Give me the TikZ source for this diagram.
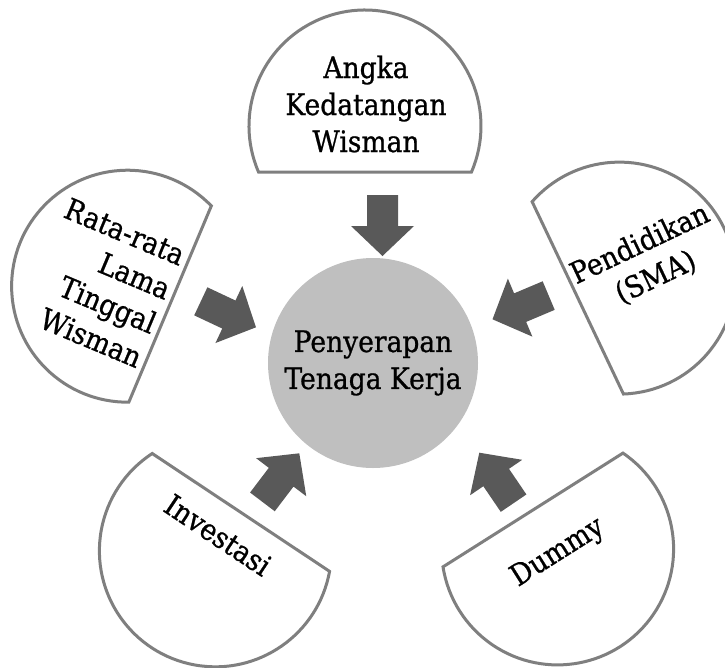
\documentclass[tikz,border=0pt]{standalone}
\usepackage{fontspec}
\setmainfont{DejaVu Serif}[FakeStretch=0.9, FakeBold=0.8]
\definecolor{petalgray}{HTML}{7F7F7F}
\definecolor{arrowgray}{HTML}{595959}
\definecolor{hubgray}{HTML}{BFBFBF}
\tikzset{
  petalline/.style={draw=petalgray, line width=3pt, fill=white},
  petaltext/.style={font=\fontsize{29.5}{37}\selectfont, inner sep=0pt, text=black},
  hub/.style={circle, fill=hubgray, minimum size=210pt, inner sep=0pt,
    align=center, font=\fontsize{29.5}{37}\selectfont},
  % a circle cut by a chord 46pt from its centre; the chord faces -x
  petal/.pic={\draw[petalline] (113.4:116pt)
      arc[start angle=113.4, end angle=-113.4, radius=116pt] -- cycle;},
  % block arrow with its tip at the origin, pointing along +x
  inarrow/.pic={\fill[arrowgray] (0pt,0pt) -- (-30pt,31.5pt) -- (-30pt,15.5pt)
      -- (-61pt,15.5pt) -- (-61pt,-15.5pt) -- (-30pt,-15.5pt)
      -- (-30pt,-31.5pt) -- cycle;}
}
\begin{document}
\begin{tikzpicture}[x=1pt, y=-1pt]
\clip (0,0) rectangle (725,667);
\useasboundingbox (0,0) rectangle (725,667);

% outer petals
\pic (pTop)   [rotate=90]    at (365,126)     {petal};
\pic (pRata)  [rotate=157.2] at (127.6,286.2) {petal};
\pic (pPend)  [rotate=25.4]  at (619.4,278.1) {petal};
\pic (pInv)   [rotate=236.4] at (215.4,550.8) {petal};
\pic (pDummy) [rotate=302.3] at (557.6,548.9) {petal};

% arrows pointing to the hub
\pic (aTop)   [rotate=-90]   at (382.5,256)   {inarrow};
\pic (aRata)  [rotate=-25.2] at (256,327.3)   {inarrow};
\pic (aPend)  [rotate=202.9] at (492.5,319.3) {inarrow};
\pic (aInv)   [rotate=52.8]  at (299.3,453.3) {inarrow};
\pic (aDummy) [rotate=124.2] at (479.3,452.7) {inarrow};

% hub
\node[hub] (hub) at (373,363) {Penyerapan\\Tenaga Kerja};

% petal labels
\node[petaltext, align=center] (tTop) at (366,104) {Angka\\Kedatangan\\Wisman};
\node[petaltext, align=right, rotate=-22.8, anchor=east] (tRata) at (162,307.5)
  {Rata-rata\\Lama\\Tinggal\\Wisman};
\node[petaltext, align=center, rotate=25.4] (tPend) at (648,261) {Pendidikan\\(SMA)};
\node[petaltext, rotate=-33.6] (tInv) at (218,535) {Investasi};
\node[petaltext, rotate=32.3] (tDummy) at (558,553) {Dummy};
\end{tikzpicture}
\end{document}
